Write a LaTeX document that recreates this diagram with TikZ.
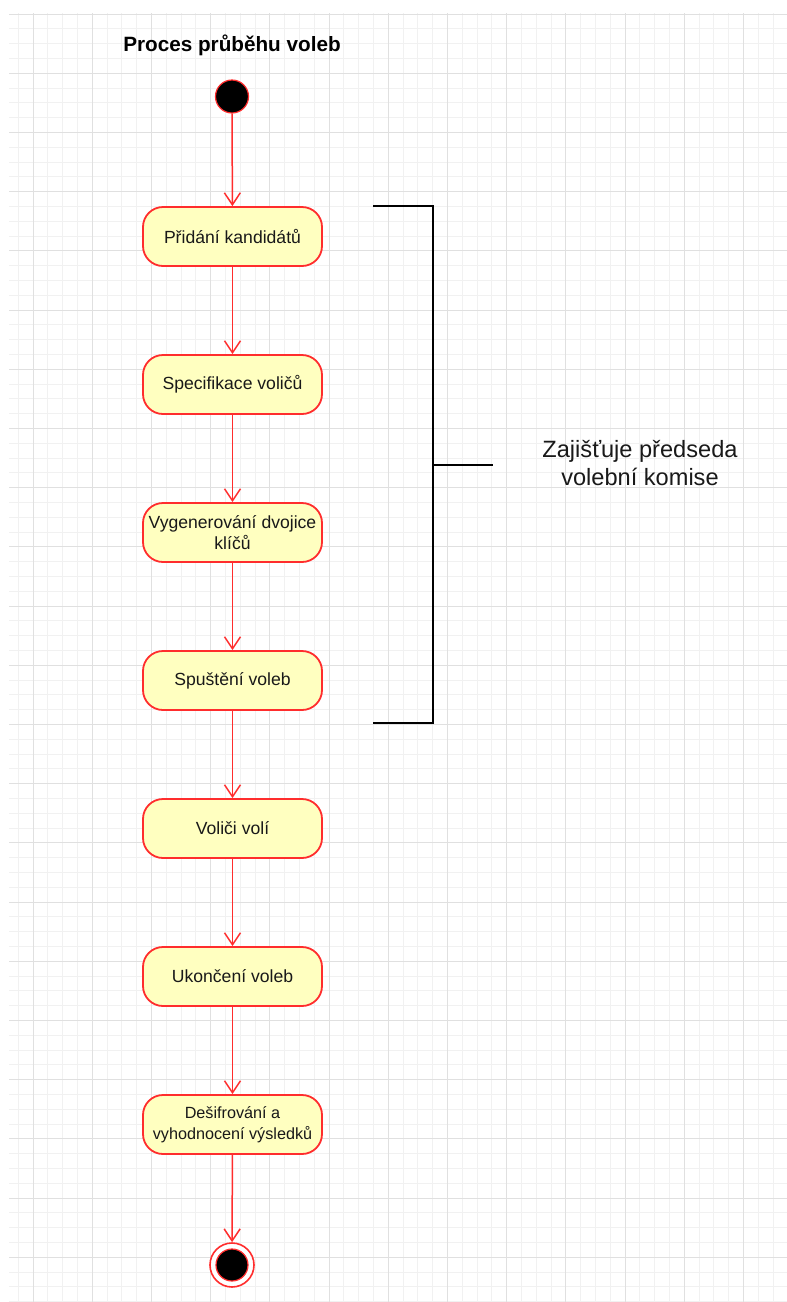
\documentclass[tikz,border=0pt]{standalone}
\usepackage{fontspec}
\setmainfont{Liberation Sans}
\usetikzlibrary{arrows.meta}

\definecolor{gridmajor}{RGB}{224,224,224}
\definecolor{gridminor}{RGB}{241,241,241}
\definecolor{umlred}{RGB}{255,45,45}
\definecolor{umlfill}{RGB}{255,255,192}

\tikzset{
  activity/.style={rectangle, rounded corners=20pt, draw=umlred, fill=umlfill,
    line width=1.8pt, minimum width=179pt, minimum height=59pt, inner sep=2pt,
    align=center, font=\fontsize{17.6}{21}\selectfont, text=black!90},
  smalltext/.style={font=\fontsize{16.2}{21}\selectfont},
  initial/.style={circle, draw=umlred, fill=black, line width=1.2pt,
    minimum size=33pt, inner sep=0pt},
  finalring/.style={circle, draw=umlred, fill=white, line width=1.6pt,
    minimum size=44pt, inner sep=0pt},
  finaldot/.style={circle, draw=umlred, fill=black, line width=1.2pt,
    minimum size=32pt, inner sep=0pt},
  flow/.style={draw=umlred, line width=1.5pt,
    -{Straight Barb[length=12pt, width=16pt, line width=1.5pt]}},
  bracketline/.style={draw=black, line width=2.6pt},
  minorline/.style={draw=gridminor, line width=1pt},
  majorline/.style={draw=gridmajor, line width=1pt},
}

\begin{document}
\begin{tikzpicture}[x=1pt, y=-1pt]
  \useasboundingbox (0,0) rectangle (787,1302);
  \fill[white] (0,0) rectangle (787,1302);

  % background grid
  \begin{scope}
    \clip (9,13) rectangle (787,1302);
    \foreach \i in {-1,...,51} {
      \draw[minorline] ({33+\i*14.8},13) -- ({33+\i*14.8},1302);
    }
    \foreach \i in {0,...,87} {
      \draw[minorline] (9,{14+\i*14.8}) -- (787,{14+\i*14.8});
    }
    \foreach \i in {0,...,12} {
      \draw[majorline] ({33+\i*59.2},13) -- ({33+\i*59.2},1302);
    }
    \foreach \i in {0,...,21} {
      \draw[majorline] (9,{14+\i*59.2}) -- (787,{14+\i*59.2});
    }
  \end{scope}

  % title
  \node[font=\fontsize{20.7}{24}\selectfont\bfseries] (title) at (232,45) {Proces průběhu voleb};

  % activity flow
  \node[initial] (start) at (232,96.5) {};
  \node[activity] (n1) at (232.5,236.5) {Přidání kandidátů};
  \node[activity] (n2) at (232.5,384.5) {Specifikace voličů};
  \node[activity] (n3) at (232.5,532.5) {Vygenerování dvojice\\klíčů};
  \node[activity] (n4) at (232.5,680.5) {Spuštění voleb};
  \node[activity] (n5) at (232.5,828.5) {Voliči volí};
  \node[activity] (n6) at (232.5,976.5) {Ukončení voleb};
  \node[activity, smalltext] (n7) at (232.5,1124.5) {Dešifrování a\\vyhodnocení výsledků};
  \node[finalring] (stop) at (232,1265) {};
  \node[finaldot] (stopdot) at (stop) {};

  \draw[flow] (start) -- (n1);
  \draw[flow] (n1) -- (n2);
  \draw[flow] (n2) -- (n3);
  \draw[flow] (n3) -- (n4);
  \draw[flow] (n4) -- (n5);
  \draw[flow] (n5) -- (n6);
  \draw[flow] (n6) -- (n7);
  \draw[flow] (n7) -- (stop);

  % bracket marking the chairman's steps
  \coordinate (btop) at (373,206);
  \coordinate (bbot) at (373,723);
  \coordinate (bmid) at (433,465);
  \draw[bracketline] (btop) -- (433,206) -- (433,723) -- (bbot);
  \draw[bracketline] (bmid) -- ++(60,0) coordinate (btip);

  \node[font=\fontsize{23.6}{28}\selectfont, align=center, text=black!90] (note) at (640,463)
    {Zajišťuje předseda\\volební komise};
\end{tikzpicture}
\end{document}
